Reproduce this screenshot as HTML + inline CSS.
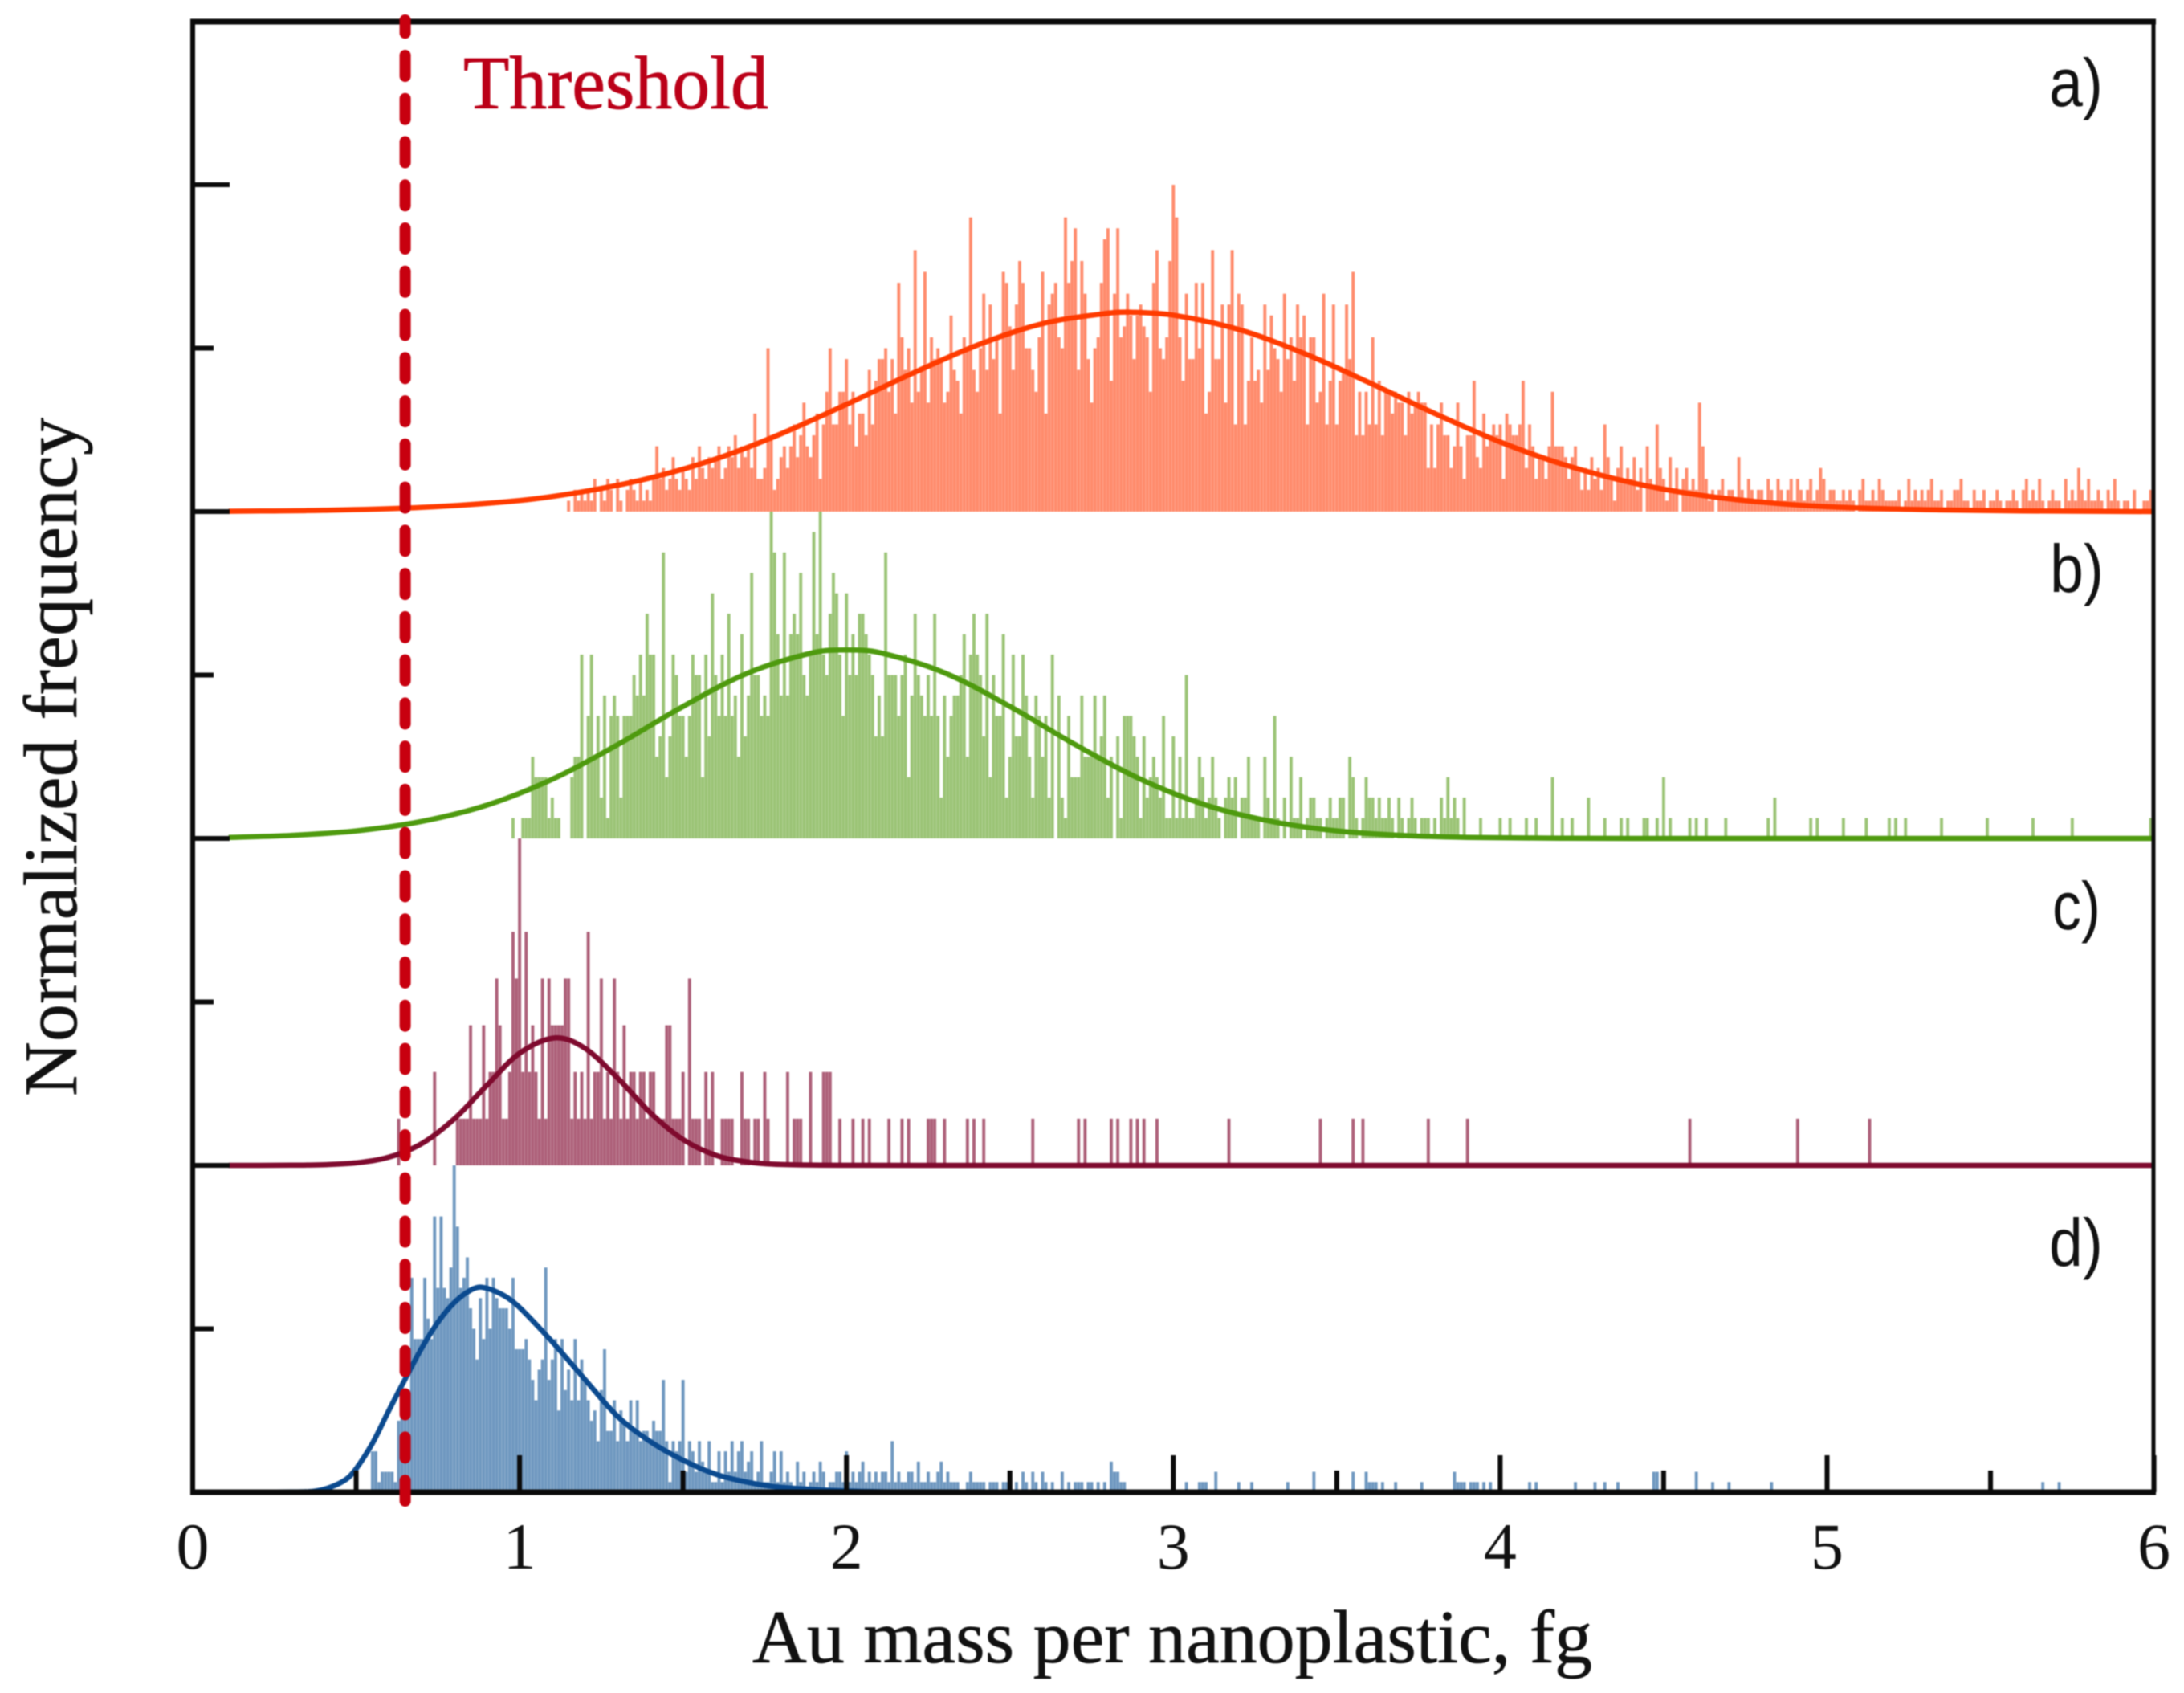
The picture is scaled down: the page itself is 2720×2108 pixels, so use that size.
<!DOCTYPE html>
<html lang="en">
<head>
<meta charset="utf-8">
<title>Au mass per nanoplastic histograms</title>
<style>
html,body{margin:0;padding:0;background:#fff;width:2720px;height:2108px;overflow:hidden}
svg{display:block;filter:blur(0.8px)}
text{font-family:"Liberation Serif",serif;fill:#111}
</style>
</head>
<body>
<svg id="chart" xmlns="http://www.w3.org/2000/svg" width="2720" height="2108" viewBox="0 0 2720 2108">
  <rect x="0" y="0" width="2720" height="2108" fill="#ffffff"/>
  <g id="bars"></g>
  <g id="curves"></g>
  <g id="ticks"></g>
  <g id="frame"></g>
  <g id="tick-labels"></g>
  <line id="threshold" stroke="#c8000f" stroke-width="14" stroke-linecap="round" stroke-dasharray="26 27.76" stroke-dashoffset="9.76"></line>
  <text x="577" y="135" font-size="94" style="fill:#bb0018;stroke:#bb0018;stroke-width:0.8" textLength="380">Threshold</text>
  <text x="2552" y="132" font-size="84" style="font-family:'Liberation Sans',sans-serif" textLength="67" lengthAdjust="spacingAndGlyphs">a)</text>
  <text x="2553" y="737" font-size="84" style="font-family:'Liberation Sans',sans-serif" textLength="67" lengthAdjust="spacingAndGlyphs">b)</text>
  <text x="2556" y="1157" font-size="84" style="font-family:'Liberation Sans',sans-serif" textLength="60" lengthAdjust="spacingAndGlyphs">c)</text>
  <text x="2552" y="1576" font-size="84" style="font-family:'Liberation Sans',sans-serif" textLength="67" lengthAdjust="spacingAndGlyphs">d)</text>
  <text x="937" y="2070" font-size="94" style="stroke:#111;stroke-width:0.6" textLength="1046">Au mass per nanoplastic, fg</text>
  <text transform="translate(95 1365) rotate(-90)" x="0" y="0" font-size="94" style="stroke:#111;stroke-width:0.6" textLength="845">Normalized frequency</text>
</svg>
<script>
const binWidth = 0.01;
const xTickMajor = [0, 1, 2, 3, 4, 5, 6];
const xTickMinor = [0.5, 1.5, 2.5, 3.5, 4.5, 5.5];
const thresholdMass = 0.65;

const startA = 1.15;
const countsA = [
1,0,2,1,2,
1,2,1,3,0,2,1,3,2,0,
3,1,0,2,3,2,1,3,1,2,
1,3,6,3,4,2,3,5,3,2,
4,3,2,5,3,6,4,3,5,4,
5,6,3,4,6,5,7,4,6,5,
6,4,
9,3,3,4,15,7,2,3,5,6,
4,6,8,5,7,10,6,5,7,9,
3,8,11,15,8,8,11,11,14,8,
11,6,9,9,7,13,8,12,14,14,
15,11,14,9,21,16,13,15,10,24,
11,13,22,10,16,14,15,14,10,11,
18,13,12,9,16,15,27,13,11,15,
20,13,19,14,16,9,22,21,17,13,
19,23,21,15,15,13,11,16,22,9,
19,20,21,16,15,27,21,23,26,13,
23,20,14,10,15,16,21,25,26,12,
20,26,16,17,20,18,14,18,19,17,
16,11,21,24,15,14,16,23,
30,27,16,12,20,14,14,21,15,21,
9,11,24,14,14,19,10,19,24,8,
20,19,8,12,16,12,13,10,19,13,
18,15,14,11,20,14,16,12,19,16,
18,8,16,16,10,11,20,8,12,19,
8,12,13,19,14,22,7,11,7,11,
8,16,8,12,7,11,11,9,11,10,
10,7,11,9,10,11,10,10,4,8,
4,8,10,7,7,4,6,10,6,3,
7,7,12,5,4,9,6,7,8,7,
8,3,9,8,7,7,8,12,4,8,
6,3,5,5,3,6,11,6,6,6,
5,3,5,6,4,2,4,2,5,3,
4,2,8,5,3,1,4,6,3,4,
3,5,2,4,0,6,3,2,8,4,
3,1,5,2,4,0,3,4,2,3,
2,10,6,3,1,2,0,2,3,1,
2,2,1,5,2,1,3,2,1,2,
2,1,3,2,1,3,2,1,2,3,
1,3,2,1,2,3,1,2,4,3,
1,2,2,1,1,2,1,2,1,0,
2,3,1,1,2,1,3,2,1,1,
1,1,2,0,1,3,1,2,1,2,
1,2,3,1,1,2,0,1,1,2,
2,3,1,1,0,2,1,1,2,0,
1,1,2,1,0,1,1,2,1,0,
2,3,1,2,1,3,1,0,1,2,
1,1,0,3,1,2,1,4,2,1,
3,1,1,2,1,0,2,1,3,1,
0,1,1,0,2,0,0,1,1,2];
const tailMassA = [];
const tailCountA = [];
const maxCountA = 30;

const startB = 0.98;
const countsB = [
1,0,
0,1,1,1,4,3,3,3,
3,1,2,1,1,0,0,0,
3,4,4,9,
0,6,9,4,6,2,7,1,6,7,
6,2,6,6,6,8,7,9,7,11,
9,9,4,5,14,3,5,9,8,6,
6,4,6,9,8,8,3,9,5,12,
8,6,9,6,11,6,7,4,10,5,
7,13,8,8,6,7,6,16,14,10,
7,14,7,10,11,10,13,8,7,9,
15,10,16,9,8,11,13,12,9,6,
12,8,10,8,11,11,10,9,8,5,
7,5,14,8,8,8,6,8,9,3,
7,11,8,7,6,8,6,11,6,2,
7,4,6,7,7,8,
10,4,9,11,
9,8,5,11,3,8,6,6,10,2,
4,9,5,5,9,7,4,2,7,6,
4,6,2,9,0,7,2,1,6,3,
3,3,7,4,4,4,7,4,5,7,
2,4,0,5,1,6,6,6,5,4,
1,5,2,3,4,3,2,6,1,1,
5,1,4,1,8,1,1,2,4,3,
1,2,4,2,1,0,2,3,2,3,
0,2,2,4,1,1,1,0,4,2,
1,6,1,0,2,0,4,1,1,3,
0,1,2,2,1,1,0,1,2,1,
1,2,2,0,4,3,1,0,1,3,
2,2,1,2,
1,1,2,1,0,2,
1,0,1,2,1,0,1,1,1,0,
1,0,2,1,3,1,2,1,0,2];
const tailMassB = [3.94,4,4.03,4.08,4.11,4.16,4.19,4.22,4.27,4.32,4.37,4.39,4.44,4.45,4.48,4.5,4.52,4.58,4.6,4.63,4.69,4.82,4.84,4.95,4.97,5.05,5.12,5.19,5.21,5.24,5.35,5.49,5.63,5.75,5.99];
const tailCountB = [1,1,1,1,1,3,1,1,2,1,1,1,1,1,1,3,1,1,1,1,1,1,2,1,1,1,1,1,1,1,1,1,1,1,1];
const maxCountB = 16;

const startC = 0.80;
const countsC = [
0,1,1,1,1,3,1,1,1,3,
1,2,2,4,3,1,1,2,5,4,
7,2,5,2,3,2,1,4,1,4,
3,3,3,3,4,4,1,2,1,2,
1,5,1,2,2,4,1,2,1,4,
2,1,3,1,2,2,1,2,2,1,
2,2,1,1,1,3,3,1,1,1,
2,0,4,1,1,1,0,2,1,2,
0,0,1,1,1,1,0,0,2,1,
1,0,1,1,0,2,1,0,0,0,
0,0,2,0,1,1,1,0,0,2,
0,0,0,2,2,2,0,0,1,0];
const tailMassC = [0.63,0.74,2.02,2.05,2.07,2.13,2.17,2.19,2.25,2.26,2.27,2.3,2.37,2.39,2.42,2.57,2.71,2.73,2.81,2.83,2.87,2.89,2.91,2.95,3.17,3.45,3.55,3.58,3.78,3.9,4.58,4.91,5.13];
const tailCountC = [1,2,1,1,1,1,1,1,1,1,1,1,1,1,1,1,1,1,1,1,1,1,1,1,1,1,1,1,1,1,1,1,1];
const maxCountC = 7;

const startD = 0.55;
const countsD = [
4,4,1,2,2,
2,2,1,7,8,9,10,21,15,15,
15,21,17,15,27,20,27,20,19,22,
32,26,20,21,23,18,16,13,19,15,
21,16,21,19,18,18,18,16,21,14,
14,14,15,13,11,9,12,13,22,11,
13,15,8,15,10,12,9,15,9,13,
11,9,7,8,5,10,14,6,6,9,
5,8,7,5,9,6,9,5,6,6,
5,7,6,6,11,5,1,5,4,5,
11,2,5,4,2,5,3,2,5,1,
1,4,1,4,2,5,2,4,5,2,
3,4,1,2,5,1,1,2,4,1,
4,1,2,1,0,3,1,2,0,1,
2,1,3,2,0,1,1,2,2,1,
4,1,2,1,2,3,1,2,1,2,
1,2,2,1,5,1,2,1,1,2,
2,1,3,1,1,2,1,1,2,3,
1,2,1,1,1,0,0,1,2,1,
1,1,1,0,1,1,1,0,1,1];
const tailMassD = [2.52,2.54,2.55,2.57,2.58,2.6,2.61,2.63,2.66,2.68,2.7,2.71,2.72,2.74,2.75,2.77,2.79,2.81,2.82,2.83,2.84,2.85,3.04,3.08,3.09,3.1,3.13,3.2,3.24,3.35,3.43,3.55,3.59,3.6,3.61,3.62,3.64,3.68,3.76,3.86,3.87,3.88,3.89,3.91,3.92,3.93,3.95,3.97,4.09,4.11,4.23,4.29,4.32,4.36,4.47,4.48,4.6,4.65,4.7,4.83,5.66,5.71];
const tailCountD = [1,2,1,2,1,2,1,1,2,1,1,1,1,1,1,1,1,3,2,2,1,1,1,1,1,1,2,1,1,1,2,2,2,1,1,1,1,1,1,2,1,1,1,1,1,1,1,1,1,1,1,1,1,1,2,2,2,1,1,1,1,1];
const maxCountD = 32;

const curveMassA = [0.11,0.4,0.7,1.0,1.2,1.4,1.6,1.8,2.0,2.2,2.4,2.6,2.8,2.87,3.0,3.2,3.4,3.6,3.8,4.0,4.2,4.4,4.6,4.8,5.0,5.3,5.6,6.0];
const curveValueA = [0.001,0.004,0.0127,0.034,0.062,0.103,0.161,0.238,0.328,0.422,0.509,0.575,0.607,0.61,0.601,0.557,0.484,0.394,0.3,0.213,0.142,0.089,0.052,0.029,0.015,0.006,0.002,0];

const curveMassB = [0.11,0.3,0.5,0.7,0.9,1.1,1.3,1.5,1.7,1.9,2.0,2.1,2.3,2.5,2.7,2.9,3.1,3.3,3.5,3.7,3.9,4.2,4.6,6.0];
const curveValueB = [0.003,0.0093,0.023,0.052,0.102,0.181,0.287,0.404,0.507,0.569,0.577,0.569,0.507,0.404,0.287,0.181,0.102,0.052,0.023,0.0093,0.0033,0.0005,0,0];

const curveMassC = [0.11,0.3,0.4,0.5,0.6,0.7,0.8,0.9,1.0,1.11,1.2,1.3,1.4,1.5,1.6,1.7,1.8,2.0,2.4,6.0];
const curveValueC = [0,0.0004,0.002,0.0077,0.025,0.066,0.142,0.245,0.343,0.39,0.358,0.267,0.161,0.079,0.031,0.01,0.0026,0.0002,0,0];

const curveMassD = [0.11,0.3,0.37,0.42,0.47,0.5,0.55,0.6,0.65,0.7,0.75,0.8,0.85,0.885,0.95,1.0,1.1,1.2,1.3,1.4,1.5,1.6,1.7,1.8,2.0,2.2,2.6];
const curveValueD = [0,0.001,0.003,0.015,0.04,0.072,0.15,0.25,0.346,0.44,0.52,0.58,0.618,0.627,0.603,0.565,0.46,0.345,0.232,0.155,0.098,0.055,0.03,0.015,0.004,0,0];

const NS = 'http://www.w3.org/2000/svg';
const xOrigin = 240, xPerUnit = 407.1, panelHeight = 407;
function xScale(m) { return xOrigin + m * xPerUnit; }
function yScale(baseline, frac) { return baseline - frac * panelHeight; }

function drawBar(group, name, color, baseline, mass, count, maxCount) {
  if (count <= 0) return;
  const h = count / maxCount * panelHeight;
  const r = document.createElementNS(NS, 'rect');
  r.setAttribute('x', (xScale(mass - binWidth / 2) + 0.1).toFixed(2));
  r.setAttribute('y', (baseline - h).toFixed(2));
  r.setAttribute('width', '3.9');
  r.setAttribute('height', h.toFixed(2));
  r.setAttribute('fill', color);
  
  
  group.appendChild(r);
}

function drawHistogram(name, color, baseline, start, counts, tailMass, tailCount, maxCount) {
  const group = document.getElementById('bars');
  counts.forEach(function (c, i) { drawBar(group, name, color, baseline, start + i * binWidth, c, maxCount); });
  tailMass.forEach(function (m, i) { drawBar(group, name, color, baseline, m, tailCount[i], maxCount); });
}

function curvePath(baseline, masses, values) {
  const px = masses.map(xScale);
  const py = values.map(function (v) { return yScale(baseline, v); });
  const n = px.length;
  const slope = function (i) {
    const a = Math.max(0, i - 1), b = Math.min(n - 1, i + 1);
    return (py[b] - py[a]) / (px[b] - px[a]);
  };
  let d = 'M' + px[0].toFixed(1) + ' ' + py[0].toFixed(1);
  for (let i = 0; i < n - 1; i++) {
    const dx = (px[i + 1] - px[i]) / 3;
    d += 'C' + (px[i] + dx).toFixed(1) + ' ' + (py[i] + slope(i) * dx).toFixed(1) + ' ' +
      (px[i + 1] - dx).toFixed(1) + ' ' + (py[i + 1] - slope(i + 1) * dx).toFixed(1) + ' ' +
      px[i + 1].toFixed(1) + ' ' + py[i + 1].toFixed(1);
  }
  return d;
}

function drawCurve(name, color, baseline, masses, values) {
  const p = document.createElementNS(NS, 'path');
  p.setAttribute('d', curvePath(baseline, masses, values));
  p.setAttribute('fill', 'none');
  p.setAttribute('stroke', color);
  p.setAttribute('stroke-width', '6.5');
  
  
  document.getElementById('curves').appendChild(p);
}

function drawLine(parent, name, x1, y1, x2, y2, width) {
  const l = document.createElementNS(NS, 'line');
  l.setAttribute('x1', x1);
  l.setAttribute('y1', y1);
  l.setAttribute('x2', x2);
  l.setAttribute('y2', y2);
  l.setAttribute('stroke', '#0a0a0a');
  l.setAttribute('stroke-width', width);
  
  
  parent.appendChild(l);
}

const baselineA = 637, baselineB = 1044, baselineC = 1451, baselineD = 1858;

drawHistogram('bar-panel-a', '#ff8b6c', baselineA, startA, countsA, tailMassA, tailCountA, maxCountA);
drawHistogram('bar-panel-b', '#9bc476', baselineB, startB, countsB, tailMassB, tailCountB, maxCountB);
drawHistogram('bar-panel-c', '#ad6079', baselineC, startC, countsC, tailMassC, tailCountC, maxCountC);
drawHistogram('bar-panel-d', '#6f98c0', baselineD, startD, countsD, tailMassD, tailCountD, maxCountD);

const tickGroup = document.getElementById('ticks');
[[baselineA, 1], [baselineA, 0.5], [baselineA, 0], [baselineB, 0.5], [baselineB, 0], [baselineC, 0.5], [baselineC, 0], [baselineD, 0.5]].forEach(function (t) {
  const y = yScale(t[0], t[1]);
  const len = t[1] === 0.5 ? 26 : 46;
  drawLine(tickGroup, t[1] === 0.5 ? 'y-minor-tick' : 'y-major-tick', xOrigin, y, xOrigin + len, y, 6);
});
xTickMajor.forEach(function (m) { drawLine(tickGroup, 'x-major-tick', xScale(m), baselineD, xScale(m), baselineD - 46, 6); });
xTickMinor.forEach(function (m) { drawLine(tickGroup, 'x-minor-tick', xScale(m), baselineD, xScale(m), baselineD - 27, 6); });

drawCurve('fit-curve-a', '#ff3b00', baselineA, curveMassA, curveValueA);
drawCurve('fit-curve-b', '#4e9a0e', baselineB, curveMassB, curveValueB);
drawCurve('fit-curve-c', '#7f0a2e', baselineC, curveMassC, curveValueC);
drawCurve('fit-curve-d', '#0b4a8f', baselineD, curveMassD, curveValueD);

const frame = document.getElementById('frame');
drawLine(frame, 'top-axis-line', 237, 27, 2685, 27, 7);
drawLine(frame, 'bottom-axis-line', 237, baselineD, 2685, baselineD, 7);
drawLine(frame, 'left-axis-line', xOrigin, 24, xOrigin, 1861, 6);
drawLine(frame, 'right-axis-line', 2682, 24, 2682, 1861, 5);

const labelGroup = document.getElementById('tick-labels');
xTickMajor.forEach(function (m) {
  const t = document.createElementNS(NS, 'text');
  t.setAttribute('x', xScale(m));
  t.setAttribute('y', 1953);
  t.setAttribute('font-size', '82');
  t.setAttribute('text-anchor', 'middle');
  
  
  t.textContent = String(m);
  labelGroup.appendChild(t);
});

const thr = document.getElementById('threshold');
thr.setAttribute('x1', xScale(thresholdMass));
thr.setAttribute('x2', xScale(thresholdMass));
thr.setAttribute('y1', 25);
thr.setAttribute('y2', 1869);
</script>
</body>
</html>
